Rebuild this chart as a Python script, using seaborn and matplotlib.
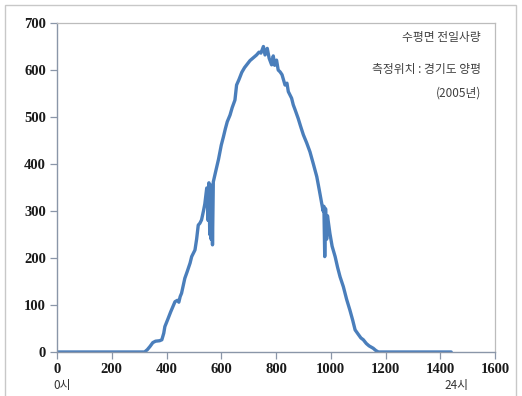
import matplotlib
matplotlib.use("Agg")
import matplotlib.pyplot as plt
import seaborn as sns
import pandas as pd
from matplotlib.patches import Rectangle

# Minute of day and horizontal-plane irradiance
minutes = [0, 320, 330, 340, 350, 360, 375, 383, 390, 394, 405, 415, 431, 440, 445,
           450, 455, 467, 475, 486, 492, 504, 510, 516, 522, 528, 535, 540, 547, 552,
           555, 558, 560, 563, 566, 568, 571, 580, 590, 600, 608, 615, 622, 632, 640,
           650, 656, 665, 675, 685, 693, 705, 715, 729, 738, 745, 754, 760, 768, 775,
           784, 790, 795, 802, 808, 815, 822, 833, 840, 845, 851, 857, 863, 870, 881,
           890, 900, 912, 924, 936, 949, 958, 967, 972, 975, 978, 981, 985, 988, 997,
           1005, 1016, 1025, 1034, 1046, 1058, 1070, 1080, 1089, 1100, 1110, 1119, 1130,
           1140, 1155, 1165, 1174, 1440]
irradiance = [0, 0, 5, 12, 20, 23, 24, 26, 40, 54, 70, 85, 107, 110, 106,
              118, 125, 157, 170, 189, 203, 217, 240, 270, 274, 281, 300, 315, 349, 280,
              360, 250, 340, 240, 355, 228, 362, 385, 410, 440, 458, 475, 490, 504, 520,
              536, 568, 580, 595, 605, 611, 620, 625, 632, 638, 636, 650, 632, 646, 625,
              611, 630, 610, 621, 600, 596, 590, 568, 572, 554, 547, 540, 526, 515, 497,
              480, 462, 445, 426, 401, 373, 345, 316, 300, 310, 203, 305, 240, 290, 252,
              225, 203, 180, 160, 139, 112, 89, 68, 47, 38, 30, 26, 18,
              13, 8, 3, 0, 0]

x_ticks = [0, 200, 400, 600, 800, 1000, 1200, 1400, 1600]
y_ticks = [0, 100, 200, 300, 400, 500, 600, 700]
info_lines = ["수평면 전일사량", "측정위치 : 경기도 양평", "(2005년)"]
hour_labels = [("0시", 0), ("24시", 1440)]

sns.set_theme(style="white")
plt.rcParams["font.family"] = ["Noto Sans CJK KR", "DejaVu Sans"]

W, H = 522, 396
fig = plt.figure(figsize=(W / 100, H / 100), dpi=100)
ax = fig.add_axes([57 / W, 1 - 352 / H, (495 - 57) / W, (352 - 23) / H])

df = pd.DataFrame({"minute": minutes, "irradiance": irradiance})
sns.lineplot(data=df, x="minute", y="irradiance", ax=ax, color="#4A7EBB",
             linewidth=2.4, sort=False, estimator=None)

ax.set_xlim(0, 1600)
ax.set_ylim(0, 700)
ax.set_xticks(x_ticks)
ax.set_yticks(y_ticks)
ax.set_xlabel("")
ax.set_ylabel("")
tick_font = dict(family="Liberation Serif", weight="bold", size=10.5)
ax.set_xticklabels([str(t) for t in x_ticks], fontdict=tick_font, color="#1a1a1a")
ax.set_yticklabels([str(t) for t in y_ticks], fontdict=tick_font, color="#1a1a1a")
ax.tick_params(axis="both", direction="out", length=5, width=0.9, color="#8a96a8",
               bottom=True, left=True, pad=3)
for side in ["left", "bottom"]:
    ax.spines[side].set_color("#8a96a8")
    ax.spines[side].set_linewidth(1.0)
for side in ["top", "right"]:
    ax.spines[side].set_color("#bcbcbc")
    ax.spines[side].set_linewidth(0.9)
ax.grid(False)

# Hour labels under the axis
for text, m in hour_labels:
    px = 62 + m * (495 - 57) / 1600
    fig.text(px / W, 1 - 385 / H, text, ha="center", va="center", fontsize=8.5,
             color="#333333")

# Info text in the upper right
ys = [38, 69, 93]
for text, y in zip(info_lines, ys):
    fig.text(481 / W, 1 - y / H, text, ha="right", va="center", fontsize=8.5,
             color="#404040")

# Chart-area frame
fig.patches.append(Rectangle((5 / W, -0.05), (516 - 5) / W, 1.05 - 5 / H,
                             transform=fig.transFigure, fill=False,
                             edgecolor="#c8c8c8", linewidth=1.0))

fig.savefig("out.png", dpi=100)
